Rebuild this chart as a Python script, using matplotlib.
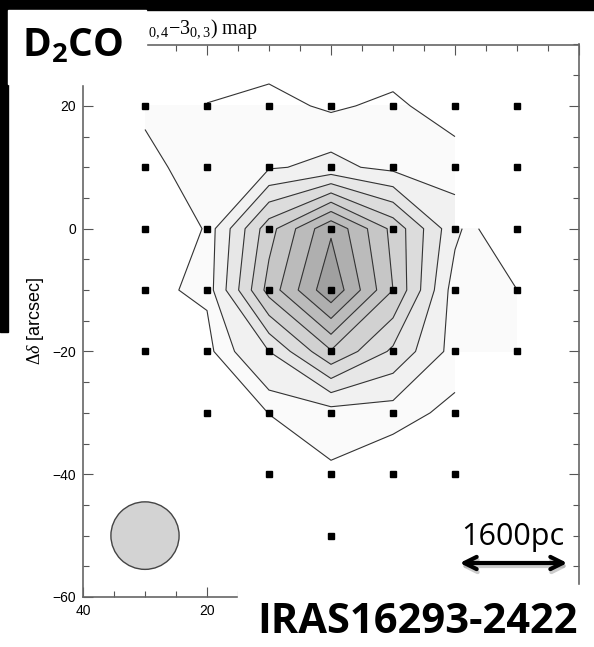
import numpy as np
import matplotlib.pyplot as plt
from matplotlib.patches import Circle, Rectangle
from matplotlib.ticker import MultipleLocator

plt.rcParams['mathtext.fontset'] = 'custom'
plt.rcParams['mathtext.rm'] = 'Liberation Serif'
plt.rcParams['mathtext.it'] = 'Liberation Serif:italic'
plt.rcParams['mathtext.bf'] = 'Open Sans:bold'
plt.rcParams['font.family'] = ['Liberation Sans', 'DejaVu Sans']

# map grid (arcsec offsets) and line intensity
ra_off = [30, 20, 10, 0, -10, -20, -30]
dec_off = [30, 20, 10, 0, -10, -20, -30, -40, -50]
nan = np.nan
intensity = [
    [nan, 0.00, 1.04, 1.00, 0.90, 0.70, nan],
    [1.50, 1.47, 1.60, 1.30, 1.55, 1.01, nan],
    [1.24, 1.67, 1.90, 2.23, 1.75, 1.79, nan],
    [0.83, 1.45, 5.60, 8.85, 5.70, 2.26, 0.00],
    [1.28, 1.50, 6.40, 9.80, 6.00, 1.50, 1.41],
    [0.90, 1.20, 3.00, 5.91, 3.80, 1.60, 1.50],
    [nan, 0.90, 1.41, 1.57, 1.55, 1.30, nan],
    [nan, nan, 1.00, 1.35, 1.12, 0.90, nan],
    [nan, nan, nan, 0.80, nan, nan, nan],
]
levels = [1.4, 2, 3, 4, 5, 6, 7, 8, 9]
fill_colors = ['#fafafa', '#f1f1f1', '#e7e7e7', '#dcdcdc', '#d1d1d1',
               '#c6c6c6', '#bbbbbb', '#afafaf', '#a0a0a0']

# observed positions
obs_ra = [30, 20, 10, 0, -10, -20, -30] * 5 + [20, 10, 0, -10, -20] + [10, 0, -10, -20] + [0]
obs_dec = [20] * 7 + [10] * 7 + [0] * 7 + [-10] * 7 + [-20] * 7 + [-30] * 5 + [-40] * 4 + [-50]

W, H = 594, 647
fig = plt.figure(figsize=(W / 100, H / 100), dpi=100)
ax = fig.add_axes([83 / W, 1 - 597 / H, 496 / W, 552.5 / H])

X, Y = np.meshgrid(ra_off, dec_off)
Z = np.ma.masked_invalid(np.array(intensity))
# shading stops at the +20" row, contour lines use the whole map
ax.contourf(X[1:], Y[1:], Z[1:], levels=levels + [10], colors=fill_colors,
            corner_mask=False)
ax.contour(X, Y, Z, levels=levels, colors='#333333', linewidths=0.8,
           corner_mask=False)

ax.plot(obs_ra, obs_dec, 's', color='black', ms=4.3, ls='none')
ax.add_patch(Circle((30, -50), 5.5, fc='#d3d3d3', ec='#444444', lw=1))

ax.set_xlim(40, -40)
ax.set_ylim(-60, 30)
ax.set_xticks([40, 20, 0, -20, -40])
ax.set_xticklabels(['40', '20', '', '', ''])
ax.set_yticks([20, 0, -20, -40, -60])
ax.xaxis.set_minor_locator(MultipleLocator(5))
ax.yaxis.set_minor_locator(MultipleLocator(5))
ax.tick_params(which='both', direction='in', top=True, right=True,
               color='#555555', width=0.8, labelsize=10)
ax.tick_params(which='major', length=7, pad=5)
ax.tick_params(which='minor', length=4)
for s in ax.spines.values():
    s.set_color('#666666')
    s.set_linewidth(1.2)

fig.text(35 / W, 1 - 321 / H, r'$\Delta\delta$ [arcsec]', rotation=90,
         ha='center', va='center', fontsize=13)
# visible tail of the original map title (the rest sits under the D2CO label)
fig.text(258 / W, 1 - 34 / H, r'$_{0,4}{-}3_{0,3}$) map', ha='right',
         va='baseline', family='Liberation Serif', fontsize=14.5)

# slide overlays
fig.add_artist(Rectangle((0, 1 - 10 / H), 1, 10 / H, transform=fig.transFigure,
                         color='black', zorder=5))
fig.add_artist(Rectangle((0, 1 - 332 / H), 8 / W, 332 / H, transform=fig.transFigure,
                         color='black', zorder=5))
fig.add_artist(Rectangle((8 / W, 1 - 84 / H), 138 / W, 74 / H, transform=fig.transFigure,
                         color='white', zorder=5))
fig.add_artist(Rectangle((238 / W, 0), 356 / W, 62 / H, transform=fig.transFigure,
                         color='white', zorder=5))

fig.text(22 / W, 1 - 56 / H, r'$\mathbf{D_2CO}$', fontsize=28, va='baseline', zorder=6)
fig.text(257 / W, 1 - 633 / H, 'IRAS16293-2422', fontsize=30, weight='bold',
         family='Open Sans', va='baseline', zorder=6)
fig.text(461 / W, 1 - 545 / H, '1600pc', fontsize=22, family='Open Sans',
         va='baseline', zorder=6)
ax.annotate('', xy=(571, 81), xytext=(458, 81), xycoords='figure pixels',
            arrowprops=dict(arrowstyle='<->', lw=3, color='#aaaaaa', alpha=0.6,
                            mutation_scale=22), zorder=6)
ax.annotate('', xy=(570, 84), xytext=(457, 84), xycoords='figure pixels',
            arrowprops=dict(arrowstyle='<->', lw=3, color='black',
                            mutation_scale=22), zorder=7)

fig.savefig('out.png', dpi=100)
